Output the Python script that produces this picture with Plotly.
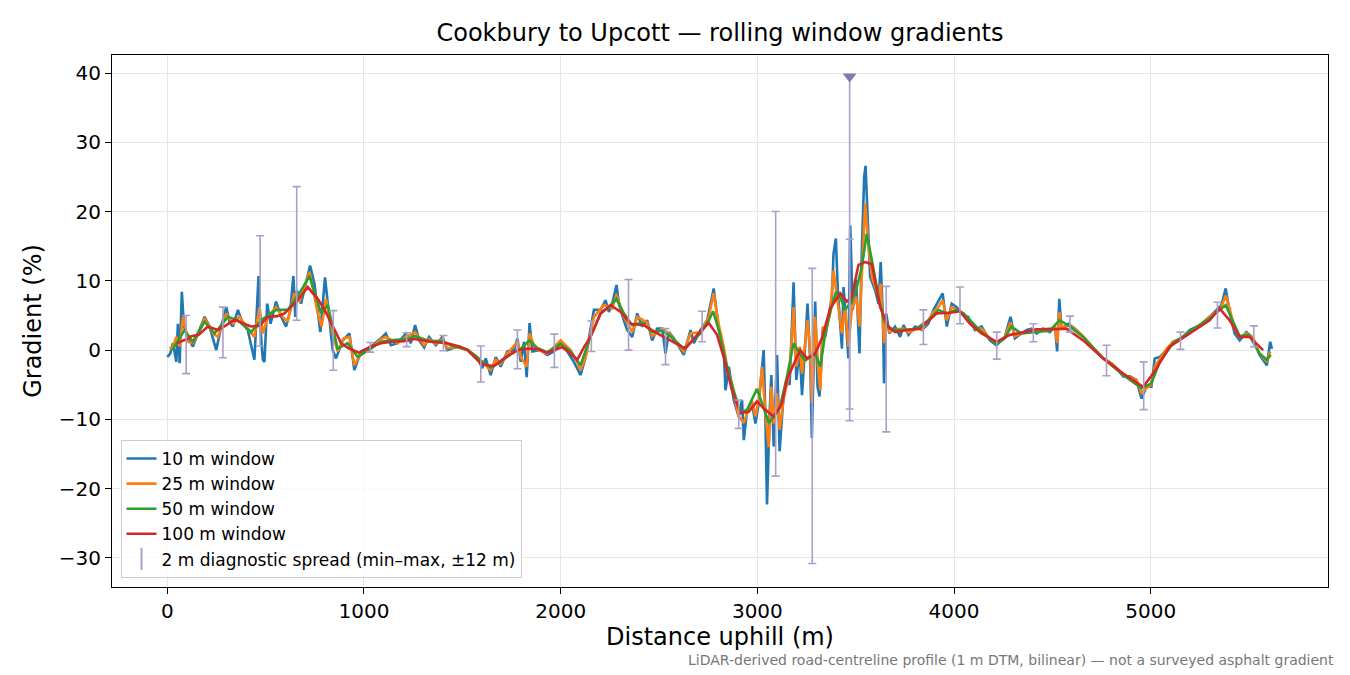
import plotly.graph_objects as go

# 10 m window (distance in m, gradient in %)
w10_x = [0, 15, 29, 46, 54, 63, 74, 85, 105, 130, 156, 190, 215, 232, 249, 274, 300, 316, 333, 359,
         384, 409, 443, 452, 464, 474, 486, 494, 508, 525, 553, 579, 604, 626, 641, 651, 660, 680,
         706, 726, 748, 778, 802, 816, 841, 858, 892, 926, 951, 985, 1035, 1086,
         1111, 1137, 1171, 1213, 1238, 1260, 1281, 1306, 1331, 1365, 1399, 1424, 1475, 1526, 1577,
         1602, 1619, 1644, 1670, 1695, 1729, 1763, 1780, 1797, 1814, 1827, 1842, 1856, 1898, 1932,
         1966, 2000, 2034, 2067, 2101, 2127, 2169,
         2203, 2228, 2245, 2262, 2284, 2296, 2321, 2338, 2364, 2389, 2414, 2440, 2465, 2491, 2516,
         2533, 2550, 2575, 2601, 2626, 2660, 2677, 2711, 2745, 2778, 2804, 2829, 2838, 2855, 2880,
         2905, 2922, 2931, 2948, 2973, 2990, 3007, 3032, 3041, 3049, 3063, 3071, 3083, 3100, 3113,
         3130, 3147, 3164, 3184, 3198, 3215, 3227, 3243, 3255, 3269, 3277, 3294, 3306, 3316, 3333,
         3345, 3362, 3379, 3387, 3399, 3409, 3421, 3430, 3438, 3450, 3463, 3472, 3485, 3502, 3519,
         3531, 3543, 3550, 3560, 3573, 3599, 3616, 3627, 3638, 3644, 3655, 3671, 3700, 3726, 3743,
         3768, 3802, 3836, 3869, 3895, 3920, 3942, 3963, 3988, 4013, 4047, 4072, 4106, 4140, 4182,
         4216, 4258, 4287, 4309, 4343,
         4369, 4394, 4420, 4453, 4487, 4513, 4524, 4535, 4546, 4580, 4623, 4656, 4707, 4758, 4800,
         4826, 4860, 4893, 4927, 4953, 4978, 5003, 5020, 5046, 5080, 5113, 5156, 5198, 5249, 5299,
         5333, 5359, 5381, 5401, 5426, 5452, 5486, 5519, 5553, 5590, 5607, 5616]
w10_y = [-1.0, -0.5, 1.0, -1.7, 3.8, -1.9, 8.4, 3.4, 1.9, 0.5, 2.4, 4.8, 3.4, 1.7, 0.0, 3.4, 6.2, 4.1, 3.4, 5.8,
         3.8, 2.9, -1.4, 3.8, 10.7, 2.9, -1.4, -1.7, 6.7, 3.8, 7.0, 4.8, 3.4, 5.8, 10.7, 4.8, 8.6, 6.7,
         9.6, 12.2, 9.6, 2.6, 10.5, 6.7, 0.0, -1.2, 1.4, 2.4, -2.9, -0.2, 0.5, 1.7,
         2.4, 0.7, 1.0, 2.4, 1.0, 3.6, 1.4, 0.4, 1.9, 0.7, 1.9, 0.0, 0.5, 0.0, -1.2,
         -2.6, -1.2, -3.6, -1.0, -2.4, -0.2, 0.0, 1.7, -1.7, 1.2, -3.9, 3.9, -0.2, 0.0, -0.7,
         -0.2, 1.0, -0.2, -1.7, -3.6, -1.0, 5.8,
         5.8, 7.2, 5.5, 6.7, 9.4, 6.7, 4.3, 2.9, 1.9, 5.3, 3.4, 4.3, 1.4, 3.1, 3.1,
         -0.5, 2.6, 1.7, 0.5, -0.7, 2.9, 1.0, 2.9, 4.3, 8.9, 2.9, 0.0, -5.8, -2.4, -7.2,
         -9.6, -7.2, -13.0, -8.6, -7.7, -10.6, -7.7, 0.0, -10.0, -22.3, -8.6, -3.6, -13.9, -0.7, -14.6,
         -7.7, -4.3, -5.0, 9.8, -4.3, 0.0, -6.5, 0.7, 6.7, -1.9, -12.7, 7.0, -5.3, -6.7, 3.1,
         1.9, 4.8, 7.7, 13.9, 16.1, 8.6, 3.8, 0.2, 9.1, 4.3, -1.2, 18.0, 5.8, 10.1, -0.5,
         14.4, 25.0, 26.6, 19.2, 10.6, 8.6, 6.7, 12.7, 4.8, -4.8, 5.3, 2.4, 3.4, 1.9, 3.6,
         2.2, 3.4, 2.9, 3.8, 5.8, 7.0, 8.2, 3.4, 6.7, 6.2, 5.0, 4.8, 2.9, 3.4, 1.4,
         0.7, 1.9, 4.8, 1.7, 2.4,
         2.9, 3.1, 2.4, 3.1, 2.6, 3.4, -0.2, 7.4, 3.1, 3.8, 2.9, 1.9, 0.2, -1.2, -1.9,
         -2.6, -3.8, -3.8, -4.3, -7.0, -5.3, -5.3, -1.2, -1.0, 0.0, 1.2, 1.7, 2.9, 3.6, 4.8,
         5.8, 6.5, 8.9, 5.5, 2.4, 1.4, 2.6, 1.7, -0.7, -2.2, 1.2, 0.2]

# 25 m window
w25_x = [12, 29, 46, 63, 80, 105, 130, 160, 190, 232, 257, 300, 333, 367, 409, 443, 469, 486, 511, 553,
         587, 612, 646, 672, 723, 765, 785, 807, 841, 866, 897, 926, 951, 985, 1035, 1086,
         1111, 1171, 1213, 1260, 1306, 1331, 1365, 1399, 1424, 1475, 1526, 1577, 1610, 1644, 1670,
         1695, 1729, 1780, 1797, 1827, 1842, 1870, 1932, 2000, 2050, 2084, 2101, 2127, 2169,
         2220, 2262, 2284, 2321, 2364, 2389, 2440, 2465, 2516, 2550, 2601, 2626, 2660, 2711, 2753,
         2778, 2804, 2829, 2846, 2871, 2905, 2931, 2956, 2973, 2990, 3007, 3024, 3041, 3058, 3071,
         3083, 3100, 3113, 3135, 3164, 3184, 3198, 3215, 3227, 3255, 3269, 3277, 3294, 3311, 3320,
         3333, 3345, 3370, 3387, 3409, 3430, 3445, 3463, 3480, 3502, 3519, 3531, 3548, 3565, 3582,
         3616, 3627, 3644, 3655, 3671, 3700, 3743, 3768, 3802, 3836, 3869, 3895, 3920, 3942, 3963,
         3988, 4013, 4047, 4081, 4106, 4140, 4182, 4216, 4258, 4287, 4309, 4343,
         4394, 4453, 4513, 4524, 4535, 4546, 4580, 4623, 4656, 4707, 4758, 4800, 4860, 4927, 4953,
         4978, 5003, 5020, 5046, 5080, 5113, 5156, 5198, 5249, 5299, 5333, 5359, 5381, 5401, 5426,
         5452, 5486, 5519, 5553, 5590, 5607]
w25_y = [0.2, 0.5, 1.9, 0.5, 4.8, 1.2, 1.0, 2.4, 4.6, 2.4, 1.9, 5.3, 3.8, 4.8, 3.1, 1.9, 6.2, 2.4, 4.8, 6.2,
         4.8, 4.1, 8.2, 7.0, 11.3, 5.3, 3.4, 7.4, 2.4, -0.2, 1.7, 1.9, -2.2, -0.5, 0.2, 1.6,
         1.9, 1.0, 1.9, 2.6, 0.7, 1.6, 0.9, 1.6, 0.3, 0.4, 0.0, -1.0, -2.0, -2.9, -1.4,
         -2.0, -0.5, 1.2, -1.0, -2.4, 2.4, 0.2, -0.5, 1.4, 0.0, -1.7, -2.9, -1.0, 4.8,
         6.5, 6.0, 8.0, 4.8, 2.6, 4.8, 4.0, 2.0, 3.1, 2.4, 0.7, -0.2, 2.4, 2.6, 4.8,
         8.2, 3.6, 0.5, -2.4, -5.0, -9.6, -10.5, -8.4, -7.4, -9.6, -7.2, -2.4, -9.1, -14.0, -5.3,
         -10.6, -6.2, -11.5, -6.7, -3.4, 6.2, -2.4, 0.5, -3.4, 4.3, -0.5, -7.7, 4.8, -3.4, -5.8,
         3.4, 2.4, 5.3, 11.5, 7.2, 2.4, 6.2, 0.5, 5.8, 7.7, 3.4, 11.0, 21.2, 15.0, 10.6,
         7.7, 9.6, 1.0, 4.3, 2.6, 3.0, 3.1, 2.5, 3.0, 3.0, 4.3, 5.5, 6.2, 7.2, 4.3,
         6.2, 5.8, 5.3, 4.3, 3.1, 3.1, 1.7, 1.0, 1.9, 4.0, 2.0, 2.4,
         2.9, 3.0, 3.2, 1.0, 5.5, 3.2, 3.6, 2.9, 2.0, 0.4, -1.2, -1.9, -3.6, -4.3, -6.2,
         -5.5, -5.0, -2.4, -1.2, 0.2, 1.2, 1.7, 2.6, 3.6, 4.8, 5.5, 6.2, 7.9, 6.0, 3.0,
         1.9, 2.4, 1.9, -0.5, -1.7, -0.2]

# 50 m window
w50_x = [25, 54, 88, 130, 190, 240, 308, 359, 426, 477, 553, 612, 672, 723, 782, 816, 866, 917, 968, 1035,
         1086, 1137, 1213, 1260, 1331, 1399, 1450, 1526, 1594, 1644, 1695, 1750, 1797, 1842, 1880,
         1932, 2000, 2050, 2101, 2152, 2203, 2245, 2284, 2321, 2364, 2414, 2465, 2516, 2558, 2626,
         2677, 2711, 2753, 2775, 2804, 2838, 2871, 2914, 2948, 2973, 2998, 3024, 3058, 3083, 3113,
         3147, 3184, 3215, 3243, 3269, 3294, 3320, 3345, 3370, 3400, 3421, 3445, 3470, 3500, 3531,
         3556, 3582, 3616, 3644, 3671, 3720, 3802, 3869, 3920, 3963, 4013, 4047, 4081, 4140, 4216,
         4258, 4290, 4343, 4420, 4487, 4535, 4580, 4656, 4758, 4860, 4953, 5003, 5046, 5113, 5198,
         5299, 5381, 5426, 5452, 5500, 5553, 5590, 5610]
w50_y = [0.0, 1.4, 2.9, 1.2, 4.1, 2.4, 4.8, 4.3, 2.6, 4.3, 5.8, 5.8, 8.2, 10.7, 5.3, 6.5, 0.2, 1.0, -1.0, 0.2,
         1.2, 1.4, 1.6, 2.0, 1.3, 1.3, 0.6, 0.1, -1.5, -2.5, -1.7, -0.5, 0.2, 1.4, 0.3,
         -0.3, 0.9, -0.2, -2.2, 2.0, 5.3, 6.2, 7.4, 5.3, 3.6, 4.0, 2.6, 2.8, 2.0, 0.2,
         1.5, 2.4, 4.3, 5.6, 2.9, -1.5, -5.0, -9.1, -8.6, -7.2, -5.6, -7.7, -10.5, -9.6, -8.4,
         -4.3, 1.0, -0.5, -1.5, -1.0, -0.5, -2.4, 2.4, 5.5, 8.4, 7.7, 5.8, 6.7, 8.4, 12.0,
         16.8, 13.0, 7.7, 4.3, 3.1, 2.9, 3.0, 4.3, 5.8, 5.3, 5.8, 5.3, 4.3, 2.6, 0.9,
         1.7, 3.4, 2.4, 2.6, 2.8, 4.3, 3.6, 1.9, -1.2, -3.6, -5.5, -4.8, -1.7, 1.0, 2.6,
         4.6, 6.5, 3.5, 2.0, 2.2, -0.5, -1.4, -0.7]

# 100 m window
w100_x = [50, 100, 122, 160, 206, 257, 300, 342, 390, 426, 470, 511, 560, 596, 646, 680, 714, 740, 765, 800,
          832, 860, 883, 920, 976, 1035, 1086, 1137, 1204, 1255, 1340, 1424, 1490, 1526, 1594, 1628,
          1661, 1712, 1780, 1830, 1881, 1932, 1966, 2008, 2050, 2084, 2120, 2152, 2203, 2254, 2305,
          2355, 2423, 2491, 2558, 2634, 2694, 2753, 2795, 2829, 2871, 2914, 2956, 2998, 3032, 3083,
          3125, 3150, 3185, 3218, 3252, 3294, 3328, 3370, 3421, 3455, 3480, 3514, 3548, 3582, 3624,
          3666, 3700, 3759, 3827, 3870, 3912, 3979, 4030, 4081, 4140, 4216, 4284, 4360, 4419, 4500,
          4572, 4656, 4758, 4860, 4961, 5012, 5096, 5198, 5299, 5350, 5401, 5452, 5503, 5571]
w100_y = [1.0, 1.6, 2.0, 2.2, 3.4, 2.9, 3.6, 4.4, 3.8, 3.4, 3.5, 4.8, 4.9, 5.3, 6.7, 7.8, 9.1, 8.3, 7.4, 5.8,
          4.1, 2.4, 1.0, 0.3, -0.4, 0.5, 1.0, 1.2, 1.3, 1.6, 1.2, 1.0, 0.5, 0.0, -1.9, -2.2,
          -2.3, -1.2, 0.0, 0.2, 0.2, -0.4, 0.0, 0.4, -0.5, -1.4, 0.5, 1.9, 5.3, 6.5, 5.5,
          3.8, 3.6, 2.4, 1.4, 0.2, 2.2, 3.9, 2.2, -1.0, -5.8, -9.1, -8.9, -7.4, -8.4, -9.6,
          -7.7, -4.3, -2.0, 0.0, -1.2, -0.5, 1.7, 6.0, 8.2, 7.0, 7.7, 12.3, 12.7, 12.4, 6.2,
          3.4, 2.6, 2.9, 3.1, 4.2, 5.3, 5.4, 5.6, 3.8, 2.4, 1.2, 2.2, 2.6, 3.0, 3.0,
          3.1, 1.4, -1.2, -3.4, -5.3, -3.4, 0.5, 2.4, 4.3, 6.0, 4.3, 1.9, 1.9, 0.0]

# 2 m diagnostic spread (min-max over +/-12 m)
spread_x = [96, 283, 472, 658, 844, 1032, 1217, 1404, 1594, 1780, 1968, 2156, 2345, 2533, 2719,
            2905, 3093, 3279, 3469, 3469, 3655, 3844, 4030, 4217, 4403, 4589, 4775, 4964, 5151,
            5339, 5524]
spread_min = [-3.4, -1.1, 0.6, 4.3, -2.9, -0.3, 0.5, -0.1, -4.6, -2.7, -2.5, -0.2, 0.0, -2.1, 1.2,
              -11.3, -18.2, -30.8, -10.2, -8.5, -11.8, 0.8, 3.8, -1.3, 1.2, 2.6, -3.7, -8.6, 0.1,
              3.2, 0.5]
spread_max = [5.0, 6.2, 16.5, 23.6, 5.7, 1.1, 2.5, 2.1, 0.6, 2.9, 2.3, 4.2, 10.2, 3.1, 5.6,
              -7.2, 20.0, 11.8, 16.0, 39.5, 9.2, 5.8, 9.1, 2.6, 3.8, 4.9, 0.7, -1.7, 2.6,
              6.9, 3.5]
# spread that runs off the top of the axis
clip_x = [3469]
clip_y = [39.5]

FONT = "DejaVu Sans"
SPREAD_COLOR = "#aa9fc8"

fig = go.Figure()

for xs, ys, name, color in [
    (w10_x, w10_y, "10 m window", "#1f77b4"),
    (w25_x, w25_y, "25 m window", "#ff7f0e"),
    (w50_x, w50_y, "50 m window", "#2ca02c"),
    (w100_x, w100_y, "100 m window", "#d62728"),
]:
    fig.add_trace(go.Scatter(x=xs, y=ys, mode="lines", name=name,
                             line=dict(color=color, width=2.6)))

# spread bars drawn from min up to max
fig.add_trace(go.Scatter(
    x=spread_x, y=spread_min, mode="markers", showlegend=False,
    marker=dict(size=0.1, color=SPREAD_COLOR, opacity=0),
    error_y=dict(type="data", symmetric=False,
                 array=[hi - lo for lo, hi in zip(spread_min, spread_max)],
                 arrayminus=[0] * len(spread_min),
                 color=SPREAD_COLOR, thickness=1.6, width=4),
))
fig.add_trace(go.Scatter(
    x=clip_x, y=clip_y, mode="markers", showlegend=False,
    marker=dict(symbol="triangle-down", size=12, color="#8878aa"),
))
# legend entry for the spread bars
fig.add_trace(go.Scatter(
    x=[None], y=[None], mode="markers", name="2 m diagnostic spread (min–max, ±12 m)",
    marker=dict(symbol="line-ns", size=16, line=dict(color=SPREAD_COLOR, width=2)),
))

# the page body adds an 8 px offset, so margins are trimmed by 8 on the left/top
fig.update_layout(
    width=1350, height=675,
    paper_bgcolor="white", plot_bgcolor="white",
    font=dict(family=FONT, size=20, color="black"),
    margin=dict(l=104, r=30, t=47, b=96),
    title=dict(text="Cookbury to Upcott — rolling window gradients",
               xref="paper", x=0.5, xanchor="center", y=0.963, yanchor="middle",
               font=dict(family=FONT, size=24)),
    legend=dict(x=0.007, y=0.017, xanchor="left", yanchor="bottom",
                bgcolor="rgba(255,255,255,0.8)", bordercolor="#cccccc", borderwidth=1,
                font=dict(family=FONT, size=17)),
    annotations=[dict(
        text="LiDAR-derived road-centreline profile (1 m DTM, bilinear) — not a surveyed asphalt gradient",
        xref="paper", yref="paper", x=1.0066, y=-0.137, xanchor="right", yanchor="middle",
        showarrow=False, font=dict(family=FONT, size=14, color="#777777"),
    )],
)
fig.update_xaxes(
    range=[-281, 5901], tickvals=[0, 1000, 2000, 3000, 4000, 5000],
    title=dict(text="Distance uphill (m)", standoff=6),
    showline=True, linecolor="black", linewidth=1.2, mirror=True,
    ticks="outside", ticklen=6, tickcolor="black",
    showgrid=True, gridcolor="#e6e6e6", gridwidth=1, zeroline=False,
)
fig.update_yaxes(
    range=[-34.2, 42.6], tickvals=[-30, -20, -10, 0, 10, 20, 30, 40],
    title=dict(text="Gradient (%)", standoff=10),
    showline=True, linecolor="black", linewidth=1.2, mirror=True,
    ticks="outside", ticklen=6, tickcolor="black",
    showgrid=True, gridcolor="#e6e6e6", gridwidth=1, zeroline=False,
)

fig.write_html("out.html")
